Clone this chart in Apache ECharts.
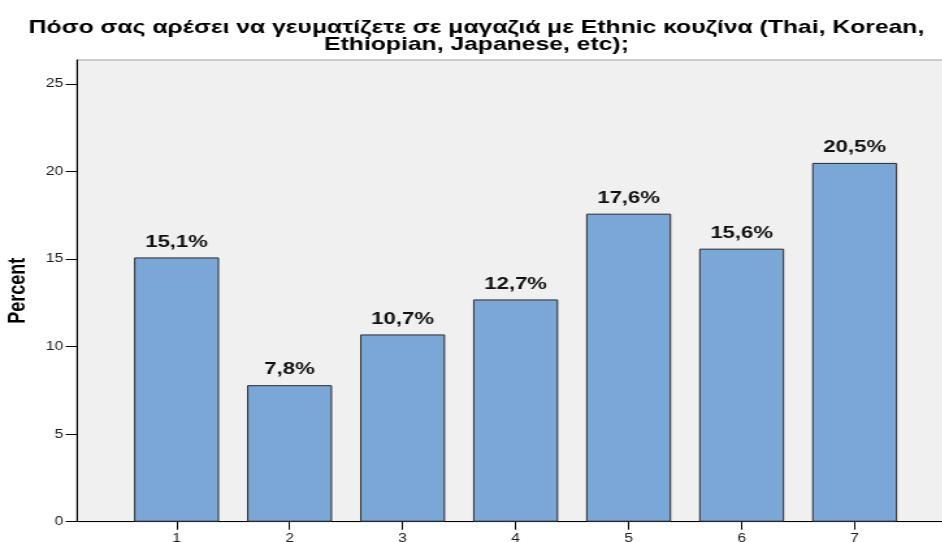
<!DOCTYPE html>
<html>
<head>
<meta charset="utf-8">
<title>Ethnic cuisine</title>
<script src="https://cdn.jsdelivr.net/npm/echarts@6.0.0/dist/echarts.min.js"></script>
<style>
  html, body { margin: 0; padding: 0; background: #ffffff; overflow: hidden; }
  #wrap { width: 942px; height: 542px; overflow: hidden; position: relative; }
  #chart { height: 542px; transform-origin: 0 0; }
</style>
</head>
<body>
<div id="wrap"><div id="chart"></div></div>
<script>
// Rating scale (1-7) and share of respondents per rating
const categories = [1, 2, 3, 4, 5, 6, 7];
const percents = [15.1, 7.8, 10.7, 12.7, 17.6, 15.6, 20.5];
const yTickValues = [0, 5, 10, 15, 20, 25];
const titleLines = [
  'Πόσο σας αρέσει να γευματίζετε σε μαγαζιά με Ethnic κουζίνα (Thai, Korean,',
  'Ethiopian, Japanese, etc);'
];
const yAxisName = 'Percent';

// The chart is laid out on a narrower canvas and widened horizontally,
// giving the broad lettering of the original SPSS export.
const SX = 1.3;
const px = v => v / SX;

const el = document.getElementById('chart');
el.style.width = (942 / SX) + 'px';
el.style.transform = 'scaleX(' + SX + ')';

const chart = echarts.init(el, null, { renderer: 'canvas' });
const FONT = '"Liberation Sans", Arial, sans-serif';

const fmt = v => v.toFixed(1).replace('.', ',') + '%';

chart.setOption({
  animation: false,
  backgroundColor: '#ffffff',
  title: {
    text: titleLines.join('\n'),
    left: px(470),
    top: 14,
    textAlign: 'center',
    textStyle: {
      fontFamily: FONT,
      fontSize: 19,
      fontWeight: 'bold',
      lineHeight: 17,
      color: '#000000'
    }
  },
  grid: {
    left: px(76.7),
    right: px(942 - 954),
    top: 60,
    bottom: 20.3,
    show: true,
    backgroundColor: '#f0f0f0',
    borderColor: '#a0a0a0',
    borderWidth: 1,
    containLabel: false,
    outerBoundsMode: 'none'
  },
  xAxis: {
    type: 'value',
    min: 0.1165,
    max: 7.8835,
    axisLine: { show: true, onZero: false, lineStyle: { color: '#000000', width: 1 } },
    axisTick: { show: true, customValues: categories, length: 8, lineStyle: { color: '#000000' } },
    axisLabel: {
      customValues: categories,
      margin: 11,
      fontFamily: FONT,
      fontSize: 12,
      color: '#1a1a1a'
    },
    splitLine: { show: false }
  },
  yAxis: {
    type: 'value',
    min: 0,
    max: 26.38,
    name: yAxisName,
    nameLocation: 'middle',
    nameGap: px(47),
    nameTextStyle: {
      fontFamily: FONT,
      fontSize: 18,
      fontWeight: 'bold',
      color: '#000000'
    },
    axisLine: { show: true, lineStyle: { color: '#000000', width: 1 } },
    axisTick: { show: true, customValues: yTickValues, length: px(11), lineStyle: { color: '#000000' } },
    axisLabel: {
      customValues: yTickValues,
      margin: px(13.4),
      fontFamily: FONT,
      fontSize: 12,
      color: '#1a1a1a'
    },
    splitLine: { show: false }
  },
  series: [{
    type: 'bar',
    data: categories.map((c, i) => [c, percents[i]]),
    barWidth: px(85),
    itemStyle: {
      color: '#7aa7d5',
      borderColor: '#2a2a2a',
      borderWidth: 1
    },
    label: {
      show: true,
      position: 'top',
      distance: 7,
      formatter: p => fmt(p.value[1]),
      fontFamily: FONT,
      fontSize: 17,
      fontWeight: 'bold',
      color: '#111111'
    }
  }]
});
</script>
</body>
</html>
